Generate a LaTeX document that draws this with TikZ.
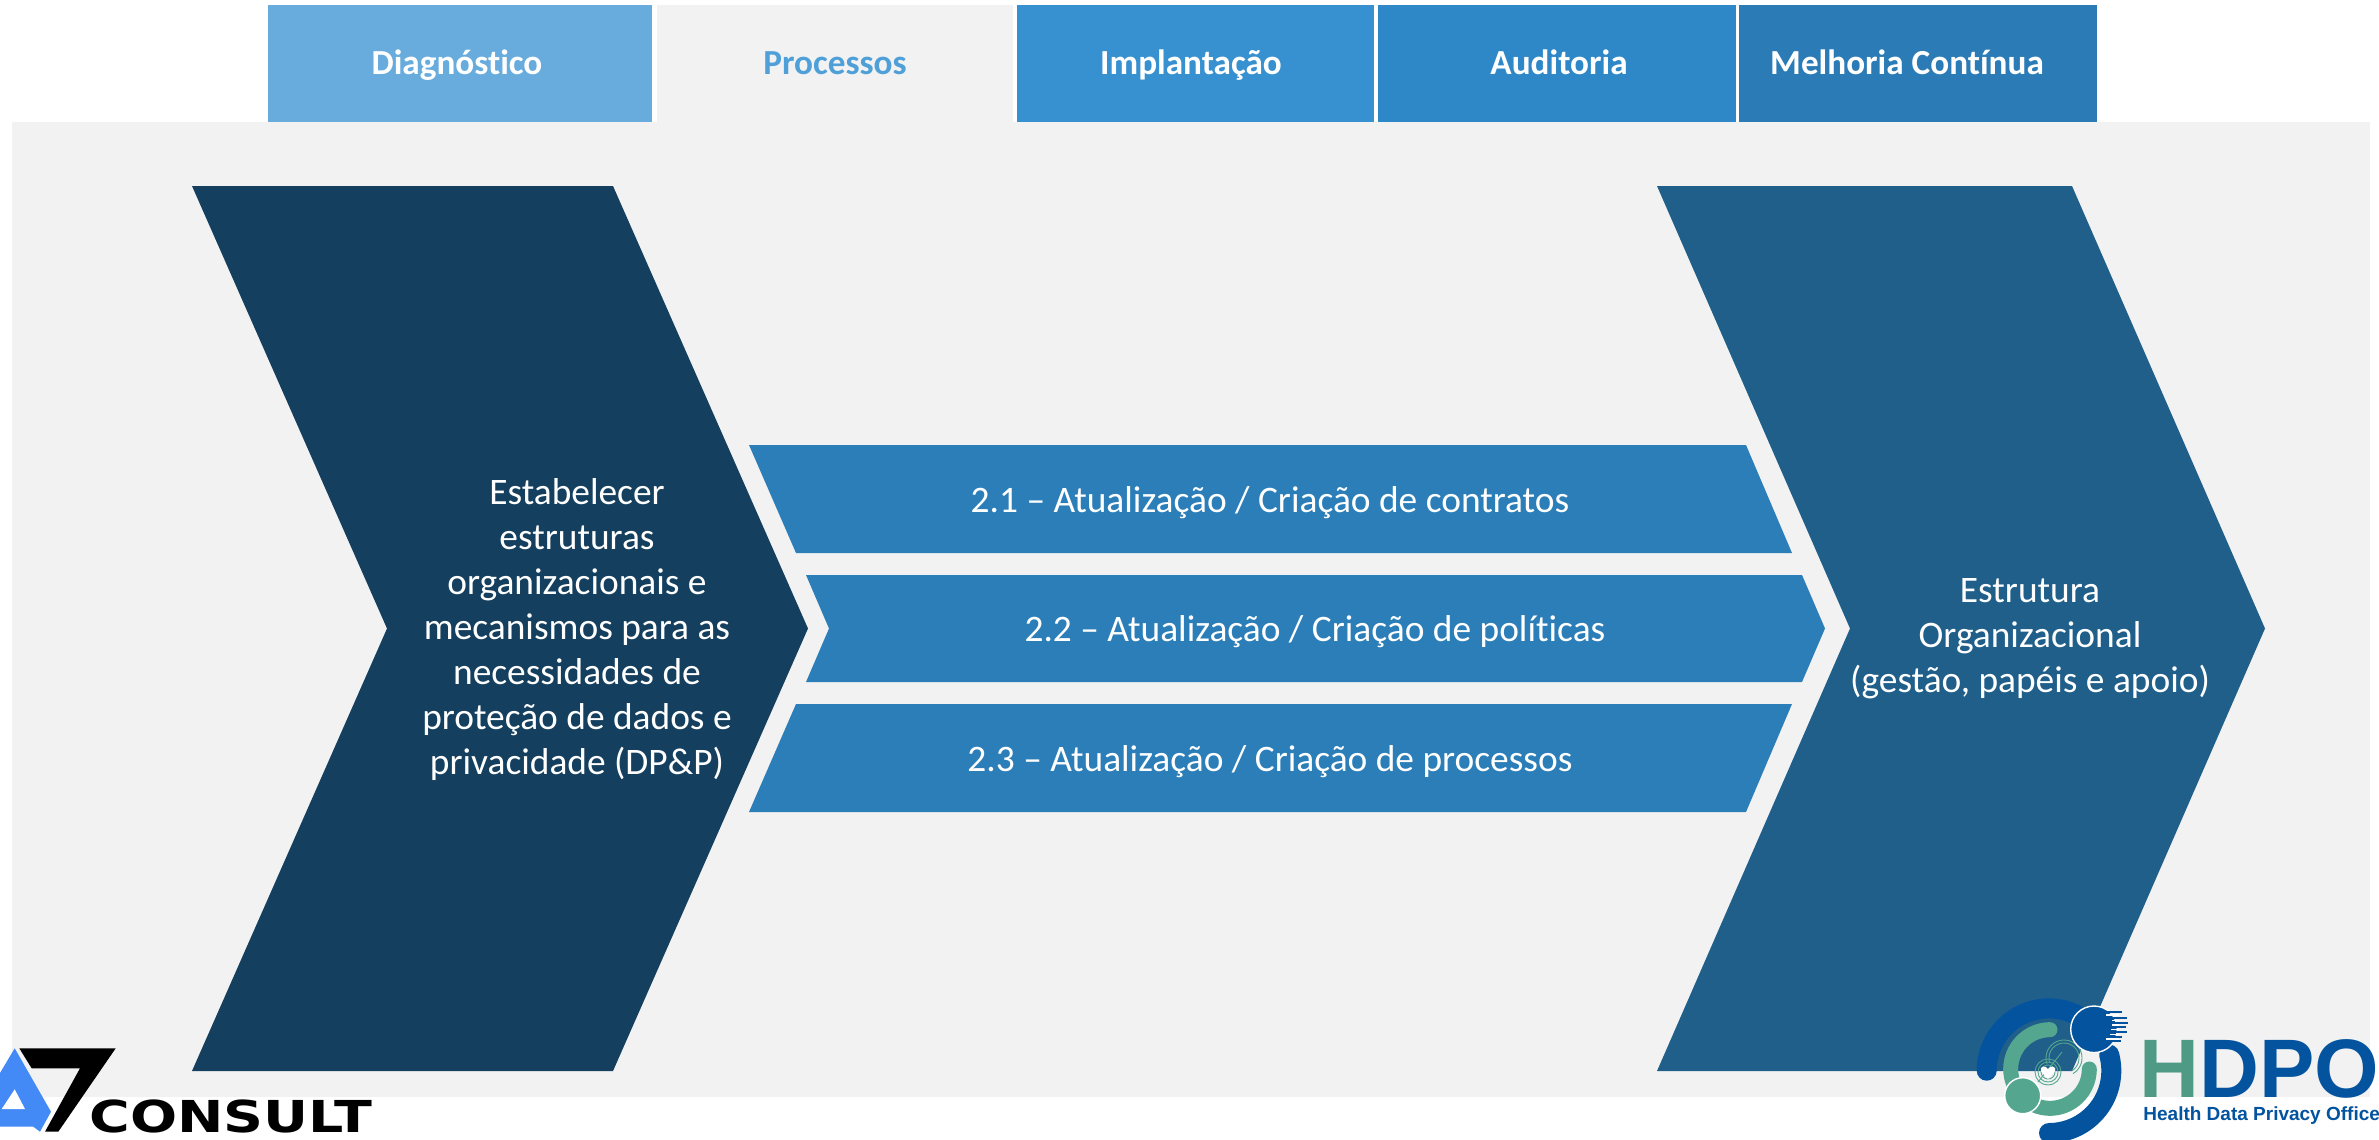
\documentclass[tikz,border=0pt]{standalone}
\usepackage{fontspec}
\setmainfont[Ligatures=CommonOff]{Carlito}
\newfontfamily\logofont{Liberation Sans}
\newfontfamily\consultfont{DejaVu Sans}
\definecolor{bgc}{HTML}{F2F2F2}
\definecolor{tabA}{HTML}{67ACDD}
\definecolor{tabB}{HTML}{F2F2F2}
\definecolor{tabBt}{HTML}{4FA0D8}
\definecolor{tabC}{HTML}{3791D1}
\definecolor{tabD}{HTML}{2E88C8}
\definecolor{tabE}{HTML}{2B7CB6}
\definecolor{barc}{HTML}{2B7EB8}
\definecolor{chevL}{HTML}{153F5E}
\definecolor{chevR}{HTML}{1F5F8A}
\definecolor{aBlue}{HTML}{438AF7}
\definecolor{hBlue}{HTML}{03539F}
\definecolor{hGreen}{HTML}{55A68F}
\definecolor{hGreenD}{HTML}{4E9A85}
\tikzset{
  tabbox/.style={fill=#1,draw=none},
  tabtext/.style={anchor=base,text=white,font=\fontsize{17.6}{21}\selectfont\bfseries,inner sep=0pt},
  bartext/.style={anchor=base,text=white,font=\fontsize{18.7}{22}\selectfont,inner sep=0pt},
  chevtext/.style={text=white,font=\fontsize{18.7}{22.5}\selectfont,align=center,inner sep=0pt},
  bluearc/.style={draw=hBlue,line width=10pt,line cap=round},
  greenarc/.style={draw=hGreen,line width=7.5pt,line cap=round},
  ring/.style={draw=hGreen,line width=0.45pt},
  streak/.style={draw=hBlue,line width=1.1pt},
  cut/.style={draw=white,line width=0.9pt}
}
\begin{document}
\begin{tikzpicture}[x=0.5pt,y=-0.5pt]
\useasboundingbox (0,0) rectangle (2379,1140);
\fill[white] (0,0) rectangle (2379,1140);
\fill[bgc] (12,122) rectangle (2370,1097);
% tabs
\fill[tabbox=tabA] (268,5) rectangle (652,122);
\fill[tabbox=tabB] (657,5) rectangle (1013,122);
\fill[tabbox=tabC] (1017,5) rectangle (1374,122);
\fill[tabbox=tabD] (1378,5) rectangle (1736,122);
\fill[tabbox=tabE] (1739,5) rectangle (2097,122);
\node[tabtext] (t1) at (457,74) {Diagnóstico};
\node[tabtext,text=tabBt] (t2) at (835,74) {Processos};
\node[tabtext] (t3) at (1191,74) {Implantação};
\node[tabtext] (t4) at (1559,74) {Auditoria};
\node[tabtext] (t5) at (1907,74) {Melhoria Contínua};
% chevrons
\fill[chevL] (192,186) -- (613,186) -- (808,628.5) -- (613,1071) -- (192,1071) -- (387,628.5) -- cycle;
\fill[chevR] (1657,186) -- (2072,186) -- (2265,628.5) -- (2072,1071) -- (1657,1071) -- (1850,628.5) -- cycle;
% bars
\fill[barc] (749,445) -- (1746,445) -- (1792,553) -- (796,553) -- cycle;
\fill[barc] (806,575) -- (1802,575) -- (1825,628.5) -- (1802,682) -- (806,682) -- (829,628.5) -- cycle;
\fill[barc] (796,704) -- (1792,704) -- (1746,812) -- (749,812) -- cycle;
\node[bartext] (b1) at (1270,512) {2.1 – Atualização / Criação de contratos};
\node[bartext] (b2) at (1315,641) {2.2 – Atualização / Criação de políticas};
\node[bartext] (b3) at (1270,771) {2.3 – Atualização / Criação de processos};
\node[chevtext] (cl) at (577,630) {Estabelecer\\estruturas\\organizacionais e\\mecanismos para as\\necessidades de\\proteção de dados e\\privacidade (DP\&P)};
\node[chevtext] (cr) at (2030,639) {Estrutura\\Organizacional\\(gestão, papéis e apoio)};
% A7 logo
\fill[aBlue] (0,1073) -- (14.7,1048.3) -- (51,1111.7) -- (40,1131.7) -- (33.3,1126.7) -- (0,1126.7) -- cycle;
\fill[white] (14.7,1089.3) -- (1.7,1109) -- (25,1109) -- cycle;
\fill[black] (19.3,1048.3) -- (115.7,1048.3) -- (58.3,1131.7) -- (45,1131.7) -- (80,1068.3) -- (31.7,1068.3) -- cycle;
\node[anchor=base west,inner sep=0pt,text=black] (consult) at (89,1132) {\scalebox{1.26}[1]{\consultfont\bfseries\fontsize{22}{22}\selectfont CONSULT}};
% HDPO icon
\draw[bluearc] plot[domain=180:55,samples=50] ({2049+62.3*cos(\x)},{1070.7-62.3*sin(\x)});
\draw[bluearc] plot[domain=15:-90,samples=50] ({2049+62.3*cos(\x)},{1070.7-62.3*sin(\x)});
\draw[greenarc] plot[domain=90:215,samples=50] ({2050+39.3*cos(\x)},{1069-39.3*sin(\x)});
\draw[greenarc] plot[domain=0:-115,samples=50] ({2050+39.3*cos(\x)},{1069-39.3*sin(\x)});
\foreach \r in {7,10,13} {\draw[ring] (2048,1072) circle[radius=\r];}
\foreach \r in {18,15} {\draw[ring] plot[domain=-60:200,samples=30] ({2064+\r*cos(\x)},{1058-\r*sin(\x)});}
\draw[ring] (2038,1082) -- (2062,1052);
\fill[white] (2048,1079) -- (2041,1071) .. controls (2039,1066) and (2046,1065) .. (2048,1069) .. controls (2050,1065) and (2057,1066) .. (2055,1071) -- cycle;
\fill[hGreen,draw=white,line width=0.7pt] (2022.7,1095.7) circle[radius=18];
\fill[hBlue,draw=white,line width=0.7pt] (2094,1029.3) circle[radius=23.3];
\foreach \ya/\xa/\xb in {1012/2105/2122,1018/2113/2127,1023/2112/2128,1027/2110/2126,1032/2112/2127,1037/2104/2122,1041/2106/2121} {\draw[streak] (\xa,\ya) -- (\xb,\ya);}
\foreach \ya/\xa in {1015/2106,1020.5/2112,1025/2112,1029.5/2111,1034.5/2110,1039/2106} {\draw[cut] (\xa,\ya) -- (2119,\ya);}
% HDPO text
\node[anchor=base west,inner sep=0pt] (hdpo) at (2139,1097) {\logofont\bfseries\fontsize{41.5}{42}\selectfont\textcolor{hGreenD}{H}\textcolor{hBlue}{DPO}};
\node[anchor=base west,inner sep=0pt,text=hBlue] (hdpos) at (2143,1120) {\logofont\bfseries\fontsize{9.5}{10}\selectfont Health Data Privacy Office};
\end{tikzpicture}
\end{document}
